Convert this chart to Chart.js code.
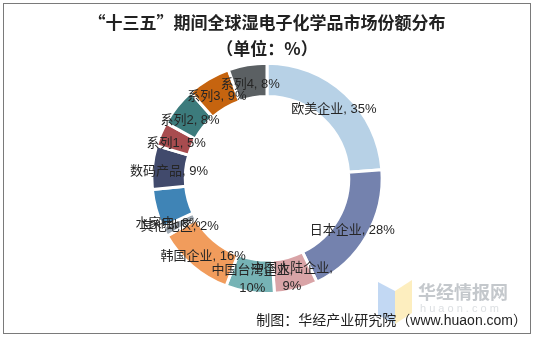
<!DOCTYPE html>
<html>
<head>
<meta charset="utf-8">
<script src="https://cdn.jsdelivr.net/npm/chart.js@4.4.0/dist/chart.umd.min.js"></script>
<style>
    html, body { margin: 0; padding: 0; background: #fff; }
    #wrap { width: 534px; height: 337px; position: relative; }
</style>
</head>
<body>
<div id="wrap"><canvas id="shareChart"></canvas></div>
<script>
// 份额数据（%）
const categories = ['欧美企业', '日本企业', '中国大陆企业', '中国台湾企业', '韩国企业', '其他地区',
    '水家电', '数码产品', '系列1', '系列2', '系列3', '系列4'];
const shares = [35, 28, 9, 10, 16, 2, 8, 9, 5, 8, 9, 8];
const sliceColors = ['#b7d1e6', '#7482ae', '#d9a4a7', '#76b3b5', '#f19c5c', '#9ea8b2',
    '#3f84b6', '#414a6c', '#a84c4f', '#3c7b7c', '#c6640f', '#5b6063'];

const FONT = '"Liberation Sans", "Noto Sans CJK SC", sans-serif';

// 扇区标签：名称, 数值%（长名称换行）
const sliceLabels = {
    id: 'sliceLabels',
    afterDatasetsDraw(chart, args, opts) {
        const ctx = chart.ctx;
        const meta = chart.getDatasetMeta(0);
        ctx.save();
        ctx.font = '13px ' + FONT;
        ctx.fillStyle = '#262626';
        ctx.textAlign = 'center';
        ctx.textBaseline = 'middle';
        meta.data.forEach((arc, i) => {
            const p = arc.tooltipPosition();
            const name = chart.data.labels[i];
            const val = chart.data.datasets[0].data[i] + '%';
            const nudge = opts.nudge[name] || [0, 0];
            const x = p.x + nudge[0];
            const y = p.y + 3 + nudge[1];
            if (name.length >= 6) {
                ctx.fillText(name + ',', x, y - 8);
                ctx.fillText(val, x, y + 10);
            } else {
                ctx.fillText(name + ', ' + val, x, y);
            }
        });
        ctx.restore();
    }
};

// 外框、来源与水印
const frame = {
    id: 'frame',
    beforeDraw(chart) {
        const ctx = chart.ctx;
        ctx.save();
        ctx.fillStyle = '#fff';
        ctx.fillRect(0, 0, chart.width, chart.height);
        ctx.restore();
    },
    afterDraw(chart) {
        const ctx = chart.ctx;
        ctx.save();
        ctx.strokeStyle = '#7a7a7a';
        ctx.lineWidth = 1;
        ctx.strokeRect(3.5, 3.5, 527, 330);

        // 水印图标
        ctx.globalAlpha = 0.55;
        ctx.fillStyle = '#8fb8ea';
        ctx.beginPath();
        ctx.moveTo(378, 282); ctx.lineTo(395, 291); ctx.lineTo(395, 324); ctx.lineTo(378, 315);
        ctx.closePath(); ctx.fill();
        ctx.fillStyle = '#fbe08a';
        ctx.beginPath();
        ctx.moveTo(395, 291); ctx.lineTo(412, 280); ctx.lineTo(412, 313); ctx.lineTo(395, 324);
        ctx.closePath(); ctx.fill();
        ctx.globalAlpha = 1;
        ctx.fillStyle = '#c4c8cc';
        ctx.font = 'bold 18px "Noto Sans CJK SC", sans-serif';
        ctx.textAlign = 'left';
        ctx.textBaseline = 'middle';
        ctx.fillText('华经情报网', 418, 292);
        ctx.fillStyle = '#dde0e3';
        ctx.font = '11px ' + FONT;
        ctx.fillText('h u a o n . c o m', 420, 309);

        ctx.fillStyle = '#222';
        ctx.font = '14px ' + FONT;
        ctx.textAlign = 'right';
        ctx.fillText('制图：华经产业研究院（www.huaon.com）', 527, 321);
        ctx.restore();
    }
};

new Chart(document.getElementById('shareChart'), {
    type: 'doughnut',
    data: {
        labels: categories,
        datasets: [{
            data: shares,
            backgroundColor: sliceColors,
            borderColor: '#ffffff',
            borderWidth: 3
        }]
    },
    options: {
        responsive: true,
        maintainAspectRatio: false,
        animation: false,
        cutout: '71%',
        layout: { padding: { top: 0, bottom: 42, left: 0, right: 0 } },
        plugins: {
            legend: { display: false },
            tooltip: { enabled: false },
            title: {
                display: true,
                text: ['“十三五”期间全球湿电子化学品市场份额分布', '（单位：%）'],
                color: '#222',
                font: { family: '"Noto Sans CJK SC", sans-serif', size: 17, weight: 'bold', lineHeight: 1.55 },
                padding: { top: 9, bottom: 0 }
            },
            sliceLabels: {
                nudge: { '水家电': [-4, 16] }
            }
        }
    },
    plugins: [frame, sliceLabels]
});
</script>
</body>
</html>
